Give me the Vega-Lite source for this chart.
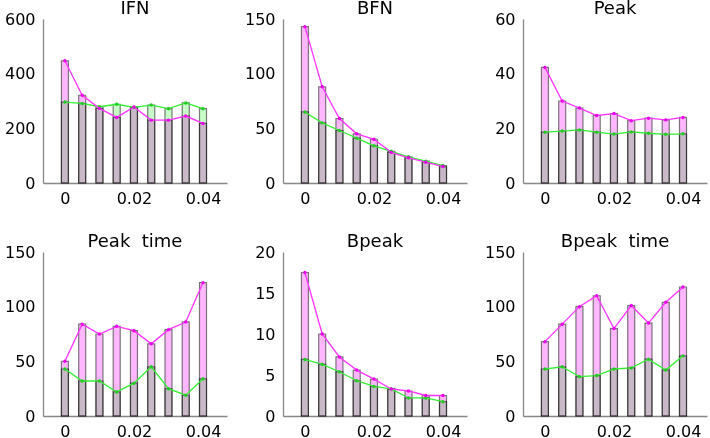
{
  "$schema": "https://vega.github.io/schema/vega-lite/v6.json",
  "padding": {"left": 4, "top": 0, "right": 2, "bottom": 30},
  "background": "white",
  "datasets": {
    "d": [
      {"p": "IFN", "x": 0, "m": 447, "g": 296},
      {"p": "IFN", "x": 0.005, "m": 321, "g": 291},
      {"p": "IFN", "x": 0.01, "m": 273, "g": 279},
      {"p": "IFN", "x": 0.015, "m": 240, "g": 288},
      {"p": "IFN", "x": 0.02, "m": 278, "g": 277},
      {"p": "IFN", "x": 0.025, "m": 230, "g": 285},
      {"p": "IFN", "x": 0.03, "m": 230, "g": 272},
      {"p": "IFN", "x": 0.035, "m": 245, "g": 293},
      {"p": "IFN", "x": 0.04, "m": 218, "g": 272},
      {"p": "BFN", "x": 0, "m": 143, "g": 65},
      {"p": "BFN", "x": 0.005, "m": 88, "g": 55},
      {"p": "BFN", "x": 0.01, "m": 59, "g": 48},
      {"p": "BFN", "x": 0.015, "m": 45, "g": 41},
      {"p": "BFN", "x": 0.02, "m": 40, "g": 34},
      {"p": "BFN", "x": 0.025, "m": 28, "g": 29},
      {"p": "BFN", "x": 0.03, "m": 23, "g": 24},
      {"p": "BFN", "x": 0.035, "m": 19, "g": 20},
      {"p": "BFN", "x": 0.04, "m": 15, "g": 16},
      {"p": "Peak", "x": 0, "m": 42.3, "g": 18.6},
      {"p": "Peak", "x": 0.005, "m": 30, "g": 19},
      {"p": "Peak", "x": 0.01, "m": 27.4, "g": 19.4},
      {"p": "Peak", "x": 0.015, "m": 24.7, "g": 18.6},
      {"p": "Peak", "x": 0.02, "m": 25.4, "g": 17.9},
      {"p": "Peak", "x": 0.025, "m": 22.8, "g": 18.7},
      {"p": "Peak", "x": 0.03, "m": 23.7, "g": 18.2},
      {"p": "Peak", "x": 0.035, "m": 23.1, "g": 17.8},
      {"p": "Peak", "x": 0.04, "m": 24, "g": 18},
      {"p": "Peak  time", "x": 0, "m": 50, "g": 43},
      {"p": "Peak  time", "x": 0.005, "m": 84, "g": 32},
      {"p": "Peak  time", "x": 0.01, "m": 75, "g": 32},
      {"p": "Peak  time", "x": 0.015, "m": 82, "g": 22},
      {"p": "Peak  time", "x": 0.02, "m": 78, "g": 30},
      {"p": "Peak  time", "x": 0.025, "m": 66, "g": 45},
      {"p": "Peak  time", "x": 0.03, "m": 79, "g": 25},
      {"p": "Peak  time", "x": 0.035, "m": 86, "g": 19},
      {"p": "Peak  time", "x": 0.04, "m": 122, "g": 34},
      {"p": "Bpeak", "x": 0, "m": 17.5, "g": 6.9},
      {"p": "Bpeak", "x": 0.005, "m": 10, "g": 6.3},
      {"p": "Bpeak", "x": 0.01, "m": 7.2, "g": 5.4},
      {"p": "Bpeak", "x": 0.015, "m": 5.6, "g": 4.3},
      {"p": "Bpeak", "x": 0.02, "m": 4.5, "g": 3.6},
      {"p": "Bpeak", "x": 0.025, "m": 3.3, "g": 3.3},
      {"p": "Bpeak", "x": 0.03, "m": 3.05, "g": 2.2},
      {"p": "Bpeak", "x": 0.035, "m": 2.5, "g": 2.2},
      {"p": "Bpeak", "x": 0.04, "m": 2.5, "g": 1.75},
      {"p": "Bpeak  time", "x": 0, "m": 68, "g": 43},
      {"p": "Bpeak  time", "x": 0.005, "m": 84, "g": 45},
      {"p": "Bpeak  time", "x": 0.01, "m": 100, "g": 36},
      {"p": "Bpeak  time", "x": 0.015, "m": 110, "g": 37},
      {"p": "Bpeak  time", "x": 0.02, "m": 80, "g": 43},
      {"p": "Bpeak  time", "x": 0.025, "m": 101, "g": 44},
      {"p": "Bpeak  time", "x": 0.03, "m": 85, "g": 52},
      {"p": "Bpeak  time", "x": 0.035, "m": 104, "g": 42},
      {"p": "Bpeak  time", "x": 0.04, "m": 118, "g": 55}
    ]
  },
  "data": {"name": "d"},
  "columns": 3,
  "bounds": "flush",
  "spacing": {"column": 56, "row": 69},
  "concat": [
    {
      "width": 184, "height": 164,
      "title": "IFN",
      "transform": [{"filter": "datum.p === 'IFN'"}],
      "encoding": {"x": {"field": "x", "type": "quantitative", "title": null, "scale": {"domain": [-0.0049, 0.0455], "nice": false, "zero": false}, "axis": {"values": [0, 0.02, 0.04], "format": "~g"}}},
      "layer": [
        {"mark": {"type": "bar", "width": 7, "fill": "#ffb8ff", "stroke": "#444444", "strokeOpacity": 0.7, "strokeWidth": 1.2, "blend": "multiply"}, "encoding": {"y": {"field": "m", "type": "quantitative", "title": null, "scale": {"domain": [0, 600], "nice": false}, "axis": {"values": [0, 200, 400, 600]}}}},
        {"mark": {"type": "bar", "width": 7, "fill": "#c8ffc8", "stroke": "#444444", "strokeOpacity": 0.7, "strokeWidth": 1.2, "blend": "multiply"}, "encoding": {"y": {"field": "g", "type": "quantitative"}}},
        {"mark": {"type": "line", "color": "#33ee33", "strokeWidth": 1.3}, "encoding": {"y": {"field": "g", "type": "quantitative"}}},
        {"mark": {"type": "line", "color": "#ff33ff", "strokeWidth": 1.3}, "encoding": {"y": {"field": "m", "type": "quantitative"}}},
        {"mark": {"type": "point", "filled": true, "opacity": 1, "size": 12, "color": "#22cc22"}, "encoding": {"y": {"field": "g", "type": "quantitative"}}},
        {"mark": {"type": "point", "filled": true, "opacity": 1, "size": 12, "color": "#ee00ee"}, "encoding": {"y": {"field": "m", "type": "quantitative"}}}
      ]
    },
    {
      "width": 184, "height": 164,
      "title": "BFN",
      "transform": [{"filter": "datum.p === 'BFN'"}],
      "encoding": {"x": {"field": "x", "type": "quantitative", "title": null, "scale": {"domain": [-0.0049, 0.0455], "nice": false, "zero": false}, "axis": {"values": [0, 0.02, 0.04], "format": "~g"}}},
      "layer": [
        {"mark": {"type": "bar", "width": 7, "fill": "#ffb8ff", "stroke": "#444444", "strokeOpacity": 0.7, "strokeWidth": 1.2, "blend": "multiply"}, "encoding": {"y": {"field": "m", "type": "quantitative", "title": null, "scale": {"domain": [0, 150], "nice": false}, "axis": {"values": [0, 50, 100, 150]}}}},
        {"mark": {"type": "bar", "width": 7, "fill": "#c8ffc8", "stroke": "#444444", "strokeOpacity": 0.7, "strokeWidth": 1.2, "blend": "multiply"}, "encoding": {"y": {"field": "g", "type": "quantitative"}}},
        {"mark": {"type": "line", "color": "#33ee33", "strokeWidth": 1.3}, "encoding": {"y": {"field": "g", "type": "quantitative"}}},
        {"mark": {"type": "line", "color": "#ff33ff", "strokeWidth": 1.3}, "encoding": {"y": {"field": "m", "type": "quantitative"}}},
        {"mark": {"type": "point", "filled": true, "opacity": 1, "size": 12, "color": "#22cc22"}, "encoding": {"y": {"field": "g", "type": "quantitative"}}},
        {"mark": {"type": "point", "filled": true, "opacity": 1, "size": 12, "color": "#ee00ee"}, "encoding": {"y": {"field": "m", "type": "quantitative"}}}
      ]
    },
    {
      "width": 184, "height": 164,
      "title": "Peak",
      "transform": [{"filter": "datum.p === 'Peak'"}],
      "encoding": {"x": {"field": "x", "type": "quantitative", "title": null, "scale": {"domain": [-0.0049, 0.0455], "nice": false, "zero": false}, "axis": {"values": [0, 0.02, 0.04], "format": "~g"}}},
      "layer": [
        {"mark": {"type": "bar", "width": 7, "fill": "#ffb8ff", "stroke": "#444444", "strokeOpacity": 0.7, "strokeWidth": 1.2, "blend": "multiply"}, "encoding": {"y": {"field": "m", "type": "quantitative", "title": null, "scale": {"domain": [0, 60], "nice": false}, "axis": {"values": [0, 20, 40, 60]}}}},
        {"mark": {"type": "bar", "width": 7, "fill": "#c8ffc8", "stroke": "#444444", "strokeOpacity": 0.7, "strokeWidth": 1.2, "blend": "multiply"}, "encoding": {"y": {"field": "g", "type": "quantitative"}}},
        {"mark": {"type": "line", "color": "#33ee33", "strokeWidth": 1.3}, "encoding": {"y": {"field": "g", "type": "quantitative"}}},
        {"mark": {"type": "line", "color": "#ff33ff", "strokeWidth": 1.3}, "encoding": {"y": {"field": "m", "type": "quantitative"}}},
        {"mark": {"type": "point", "filled": true, "opacity": 1, "size": 12, "color": "#22cc22"}, "encoding": {"y": {"field": "g", "type": "quantitative"}}},
        {"mark": {"type": "point", "filled": true, "opacity": 1, "size": 12, "color": "#ee00ee"}, "encoding": {"y": {"field": "m", "type": "quantitative"}}}
      ]
    },
    {
      "width": 184, "height": 164,
      "title": "Peak\u00a0\u00a0time",
      "transform": [{"filter": "datum.p === 'Peak  time'"}],
      "encoding": {"x": {"field": "x", "type": "quantitative", "title": null, "scale": {"domain": [-0.0049, 0.0455], "nice": false, "zero": false}, "axis": {"values": [0, 0.02, 0.04], "format": "~g"}}},
      "layer": [
        {"mark": {"type": "bar", "width": 7, "fill": "#ffb8ff", "stroke": "#444444", "strokeOpacity": 0.7, "strokeWidth": 1.2, "blend": "multiply"}, "encoding": {"y": {"field": "m", "type": "quantitative", "title": null, "scale": {"domain": [0, 150], "nice": false}, "axis": {"values": [0, 50, 100, 150]}}}},
        {"mark": {"type": "bar", "width": 7, "fill": "#c8ffc8", "stroke": "#444444", "strokeOpacity": 0.7, "strokeWidth": 1.2, "blend": "multiply"}, "encoding": {"y": {"field": "g", "type": "quantitative"}}},
        {"mark": {"type": "line", "color": "#33ee33", "strokeWidth": 1.3}, "encoding": {"y": {"field": "g", "type": "quantitative"}}},
        {"mark": {"type": "line", "color": "#ff33ff", "strokeWidth": 1.3}, "encoding": {"y": {"field": "m", "type": "quantitative"}}},
        {"mark": {"type": "point", "filled": true, "opacity": 1, "size": 12, "color": "#22cc22"}, "encoding": {"y": {"field": "g", "type": "quantitative"}}},
        {"mark": {"type": "point", "filled": true, "opacity": 1, "size": 12, "color": "#ee00ee"}, "encoding": {"y": {"field": "m", "type": "quantitative"}}}
      ]
    },
    {
      "width": 184, "height": 164,
      "title": "Bpeak",
      "transform": [{"filter": "datum.p === 'Bpeak'"}],
      "encoding": {"x": {"field": "x", "type": "quantitative", "title": null, "scale": {"domain": [-0.0049, 0.0455], "nice": false, "zero": false}, "axis": {"values": [0, 0.02, 0.04], "format": "~g"}}},
      "layer": [
        {"mark": {"type": "bar", "width": 7, "fill": "#ffb8ff", "stroke": "#444444", "strokeOpacity": 0.7, "strokeWidth": 1.2, "blend": "multiply"}, "encoding": {"y": {"field": "m", "type": "quantitative", "title": null, "scale": {"domain": [0, 20], "nice": false}, "axis": {"values": [0, 5, 10, 15, 20]}}}},
        {"mark": {"type": "bar", "width": 7, "fill": "#c8ffc8", "stroke": "#444444", "strokeOpacity": 0.7, "strokeWidth": 1.2, "blend": "multiply"}, "encoding": {"y": {"field": "g", "type": "quantitative"}}},
        {"mark": {"type": "line", "color": "#33ee33", "strokeWidth": 1.3}, "encoding": {"y": {"field": "g", "type": "quantitative"}}},
        {"mark": {"type": "line", "color": "#ff33ff", "strokeWidth": 1.3}, "encoding": {"y": {"field": "m", "type": "quantitative"}}},
        {"mark": {"type": "point", "filled": true, "opacity": 1, "size": 12, "color": "#22cc22"}, "encoding": {"y": {"field": "g", "type": "quantitative"}}},
        {"mark": {"type": "point", "filled": true, "opacity": 1, "size": 12, "color": "#ee00ee"}, "encoding": {"y": {"field": "m", "type": "quantitative"}}}
      ]
    },
    {
      "width": 184, "height": 164,
      "title": "Bpeak\u00a0\u00a0time",
      "transform": [{"filter": "datum.p === 'Bpeak  time'"}],
      "encoding": {"x": {"field": "x", "type": "quantitative", "title": null, "scale": {"domain": [-0.0049, 0.0455], "nice": false, "zero": false}, "axis": {"values": [0, 0.02, 0.04], "format": "~g"}}},
      "layer": [
        {"mark": {"type": "bar", "width": 7, "fill": "#ffb8ff", "stroke": "#444444", "strokeOpacity": 0.7, "strokeWidth": 1.2, "blend": "multiply"}, "encoding": {"y": {"field": "m", "type": "quantitative", "title": null, "scale": {"domain": [0, 150], "nice": false}, "axis": {"values": [0, 50, 100, 150]}}}},
        {"mark": {"type": "bar", "width": 7, "fill": "#c8ffc8", "stroke": "#444444", "strokeOpacity": 0.7, "strokeWidth": 1.2, "blend": "multiply"}, "encoding": {"y": {"field": "g", "type": "quantitative"}}},
        {"mark": {"type": "line", "color": "#33ee33", "strokeWidth": 1.3}, "encoding": {"y": {"field": "g", "type": "quantitative"}}},
        {"mark": {"type": "line", "color": "#ff33ff", "strokeWidth": 1.3}, "encoding": {"y": {"field": "m", "type": "quantitative"}}},
        {"mark": {"type": "point", "filled": true, "opacity": 1, "size": 12, "color": "#22cc22"}, "encoding": {"y": {"field": "g", "type": "quantitative"}}},
        {"mark": {"type": "point", "filled": true, "opacity": 1, "size": 12, "color": "#ee00ee"}, "encoding": {"y": {"field": "m", "type": "quantitative"}}}
      ]
    }
  ],
  "config": {
    "view": {"stroke": null},
    "axis": {"domainColor": "#888888", "domainWidth": 1.3, "ticks": false, "grid": false, "labelFont": "DejaVu Sans", "labelFontSize": 16, "labelColor": "#000000", "labelPadding": 8},
    "axisX": {"labelPadding": 7},
    "title": {"font": "DejaVu Sans", "fontSize": 18, "fontWeight": "normal", "color": "#000000", "baseline": "alphabetic", "offset": -7}
  }
}
